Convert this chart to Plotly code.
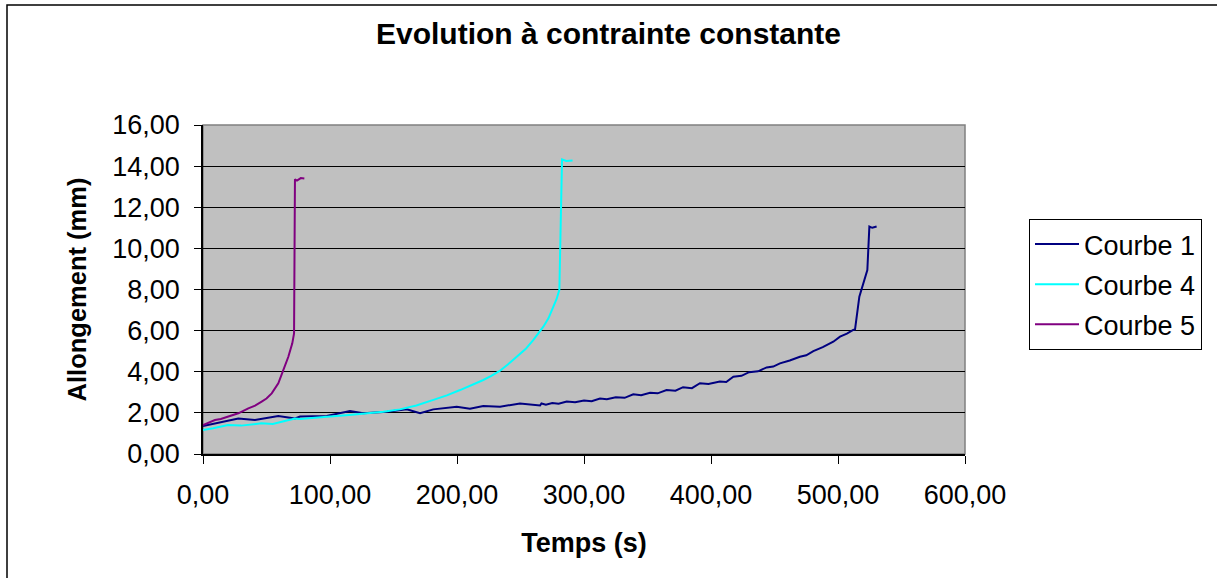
import plotly.graph_objects as go

# ---- data ----
c1_t = [0, 9.4, 27.8, 40.9, 59.3, 72.4, 76.4, 97.4, 115.7, 126.2, 145.0, 160.4, 170.9, 181.3,
        199.8, 210.2, 220.7, 233.9, 249.6, 265.4, 266.5, 270.0, 275.0, 280.0, 286.4, 293.0,
        300.0, 306.0, 312.6, 318.0, 325.0, 332.0, 338.8, 345.0, 352.0, 358.0, 365.0, 372.0,
        378.0, 385.0, 391.3, 398.0, 407.0, 412.0, 417.6, 424.0, 430.0, 437.0, 443.8, 449.0,
        454.3, 462.0, 470.0, 475.0, 480.6, 488.0, 496.3, 501.6, 507.0, 512.0, 513.4, 516.8,
        520.0, 523.1, 524.7, 527.0, 530.4]
c1_y = [1.36, 1.49, 1.73, 1.65, 1.85, 1.73, 1.82, 1.85, 2.09, 1.98, 2.05, 2.17, 1.98, 2.17,
        2.30, 2.20, 2.33, 2.30, 2.46, 2.36, 2.46, 2.40, 2.48, 2.44, 2.55, 2.52,
        2.60, 2.57, 2.70, 2.66, 2.76, 2.73, 2.90, 2.86, 2.98, 2.95, 3.11, 3.08,
        3.25, 3.20, 3.44, 3.40, 3.52, 3.50, 3.76, 3.80, 3.98, 4.02, 4.21, 4.25,
        4.41, 4.55, 4.73, 4.80, 5.00, 5.20, 5.46, 5.71, 5.85, 6.03, 6.06, 7.65,
        8.30, 8.95, 11.06, 11.00, 11.06]

c4_t = [0, 8.0, 19.7, 30.0, 46.0, 55.0, 62.0, 72.4, 76.4, 86.0, 96.0, 100.0, 115.0, 128.9,
        142.0, 155.0, 168.0, 181.4, 192.0, 202.4, 212.0, 220.7, 227.0, 233.9, 240.0, 247.0,
        254.0, 260.0, 264.0, 268.0, 272.0, 275.8, 278.5, 280.6, 281.5, 282.7, 286.0, 291.0]
c4_y = [1.17, 1.25, 1.41, 1.38, 1.49, 1.46, 1.57, 1.73, 1.70, 1.76, 1.82, 1.82, 1.90, 1.98,
        2.06, 2.17, 2.36, 2.63, 2.85, 3.11, 3.35, 3.60, 3.80, 4.05, 4.35, 4.73,
        5.10, 5.54, 5.85, 6.19, 6.60, 7.16, 7.55, 7.98, 11.00, 14.33, 14.25, 14.27]

c5_t = [0, 5.0, 9.4, 14.0, 19.9, 27.8, 35.7, 41.0, 46.2, 50.0, 54.1, 59.3, 63.3, 67.2, 70.3,
        71.7, 72.4, 74.0, 77.0, 79.8]
c5_y = [1.41, 1.55, 1.65, 1.70, 1.82, 1.98, 2.22, 2.35, 2.55, 2.70, 2.95, 3.44, 4.09, 4.73, 5.38,
        5.87, 13.36, 13.30, 13.42, 13.40]

names = ["Courbe 1", "Courbe 4", "Courbe 5"]
colors = ["#000080", "#00FFFF", "#800080"]

x_ticks = [0, 100, 200, 300, 400, 500, 600]
y_ticks = [0, 2, 4, 6, 8, 10, 12, 14, 16]

FONT = "Liberation Sans, Arial, sans-serif"

fig = go.Figure()
for t, y, n, c in zip([c1_t, c4_t, c5_t], [c1_y, c4_y, c5_y], names, colors):
    fig.add_trace(go.Scatter(x=t, y=y, mode="lines", name=n, legendgroup=n,
                             line=dict(color=c, width=2)))

W, H = 1217, 578
L, R, T, B = 203, 252, 125, 124
pw, ph = W - L - R, H - T - B

def px(xp):
    return (xp - L) / pw

def py(yp):
    return (H - B - yp) / ph

fig.update_layout(
    width=W, height=H, autosize=False,
    margin=dict(l=L, r=R, t=T, b=B, pad=0),
    paper_bgcolor="white", plot_bgcolor="#C0C0C0",
    separators=", ",
    font=dict(family=FONT, size=27, color="black"),
    title=dict(text="<b>Evolution à contrainte constante</b>", x=0.5, xref="container",
               y=1 - 33 / H, yanchor="middle", yref="container",
               font=dict(size=30, family=FONT, color="black")),
    showlegend=True,
    legend=dict(x=px(1029), y=py(219), xanchor="left", yanchor="top",
                bgcolor="white", bordercolor="black", borderwidth=1,
                font=dict(size=27, family=FONT), tracegroupgap=2,
                itemwidth=44),
    xaxis=dict(range=[0, 600], tickvals=x_ticks, tickformat=".2f",
               showgrid=False, zeroline=False, showline=True, linecolor="black",
               linewidth=1.5, ticks="outside", ticklen=8, tickcolor="black",
               ticklabelstandoff=8,
               title=dict(text="<b>Temps (s)</b>", standoff=24,
                          font=dict(size=27, family=FONT))),
    yaxis=dict(range=[0, 16], tickvals=y_ticks, tickformat=".2f",
               showgrid=True, gridcolor="black", gridwidth=1,
               zeroline=False, showline=True, linecolor="black",
               linewidth=1.5, ticks="outside", ticklen=7, tickcolor="black",
               ticklabelstandoff=9,
               title=dict(text="<b>Allongement (mm)</b>", standoff=18,
                          font=dict(size=25.5, family=FONT))),
)

# plot-area gray border
fig.add_shape(type="rect", xref="paper", yref="paper", x0=0, x1=1, y0=0, y1=1,
              line=dict(color="#808080", width=1.5), layer="below")
# outer chart border
fig.add_shape(type="rect", xref="paper", yref="paper",
              x0=px(7), x1=px(W + 5), y0=py(H + 5), y1=py(5),
              line=dict(color="black", width=1.5), fillcolor="rgba(0,0,0,0)", layer="above")

fig.write_html("out.html", config={"displayModeBar": False},
               post_script="document.body.style.margin='0';")
